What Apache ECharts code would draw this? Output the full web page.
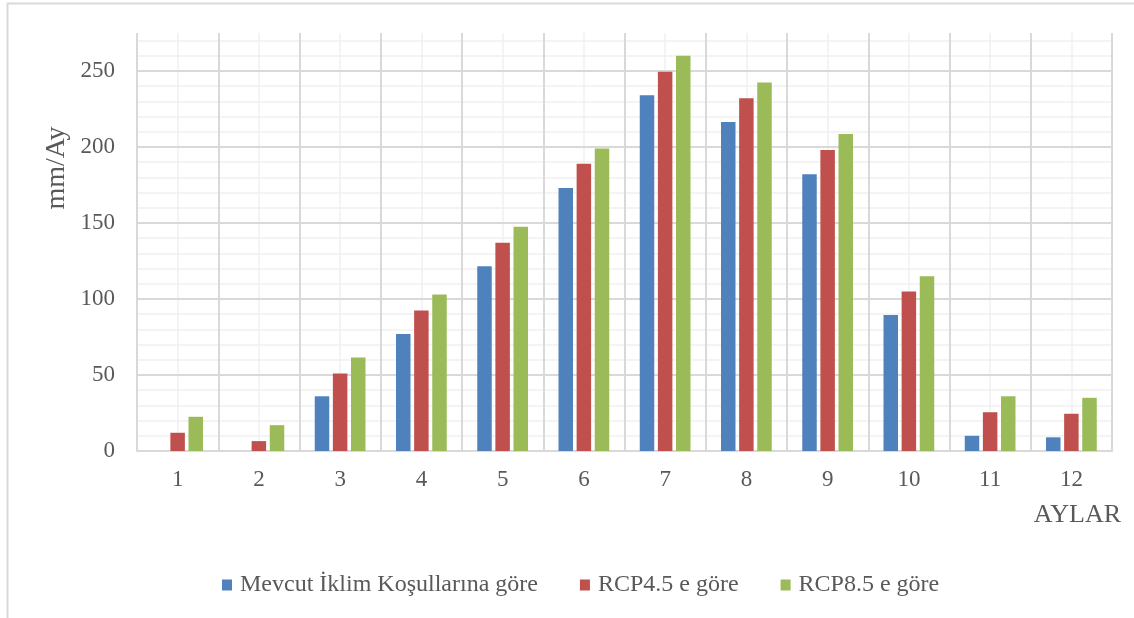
<!DOCTYPE html>
<html>
<head>
<meta charset="utf-8">
<script src="https://cdn.jsdelivr.net/npm/echarts@6/dist/echarts.min.js"></script>
<style>
  html, body { margin: 0; padding: 0; background: #ffffff; }
  #chart { width: 1134px; height: 618px; }
</style>
</head>
<body>
<div id="chart"></div>
<script>
// Monthly precipitation (mm/Ay) for current climate and two RCP scenarios
const months = ['1', '2', '3', '4', '5', '6', '7', '8', '9', '10', '11', '12'];
const seriesNames = ['Mevcut İklim Koşullarına göre', 'RCP4.5 e göre', 'RCP8.5 e göre'];
const mevcut = [0, 0, 36, 77, 121.5, 173, 234, 216.5, 182, 89.5, 10, 9];
const rcp45 = [12, 6.5, 51, 92.5, 137, 189, 249.5, 232, 198, 105, 25.5, 24.5];
const rcp85 = [22.5, 17, 61.5, 103, 147.5, 199, 260, 242.5, 208.5, 115, 36, 35];
const colors = ['#4f81bd', '#c0504d', '#9bbb59'];

const FONT = 'Liberation Serif';
const TEXT = '#595959';
const MAJOR = '#d9d9d9';
const MINOR = '#f0f0f0';

// half-category slots, used only for the light centre gridlines
const halfSlots = months.flatMap(m => [m + 'a', m + 'b']);

const chart = echarts.init(document.getElementById('chart'), null, { renderer: 'canvas' });

const makeBar = (name, data, color) => ({
  name: name,
  type: 'bar',
  xAxisIndex: 0,
  yAxisIndex: 0,
  data: data,
  barWidth: 14.5,
  barGap: '25%',
  itemStyle: { color: color },
  emphasis: { disabled: true }
});

chart.setOption({
  animation: false,
  backgroundColor: '#ffffff',
  grid: { left: 137, right: 22, top: 33, bottom: 167, containLabel: false },
  legend: {
    left: 217,
    top: 568,
    icon: 'rect',
    itemWidth: 10,
    itemHeight: 11,
    itemGap: 42,
    textStyle: { fontFamily: FONT, fontSize: 24, color: TEXT, padding: [0, 0, 0, 3] },
    data: seriesNames
  },
  xAxis: [
    {
      type: 'category',
      data: months,
      z: 2,
      axisLine: { show: true, lineStyle: { color: MAJOR, width: 2 } },
      axisTick: { show: false },
      axisLabel: { fontFamily: FONT, fontSize: 23, color: TEXT, margin: 17 },
      splitLine: { show: true, interval: 0, lineStyle: { color: MAJOR, width: 2 } }
    },
    {
      type: 'category',
      data: halfSlots,
      position: 'bottom',
      z: 0,
      axisLine: { show: false },
      axisTick: { show: false },
      axisLabel: { show: false },
      splitLine: { show: true, interval: 0, lineStyle: { color: MINOR, width: 1.5 } }
    }
  ],
  yAxis: [
    {
      type: 'value',
      min: 0,
      max: 275,
      interval: 50,
      z: 1,
      axisLine: { show: false },
      axisTick: { show: false },
      axisLabel: {
        fontFamily: FONT, fontSize: 23, color: TEXT, margin: 22,
        formatter: v => (v % 50 === 0 ? String(v) : '')
      },
      splitLine: { show: true, showMaxLine: false, lineStyle: { color: MAJOR, width: 2 } }
    },
    {
      type: 'value',
      min: 0,
      max: 275,
      interval: 10,
      position: 'left',
      z: 0,
      axisLine: { show: false },
      axisTick: { show: false },
      axisLabel: { show: false },
      splitLine: { show: true, showMaxLine: false, lineStyle: { color: MINOR, width: 1.5 } }
    }
  ],
  graphic: [
    {
      type: 'rect',
      silent: true,
      shape: { x: 7.5, y: 3.5, width: 1400, height: 800 },
      style: { fill: 'none', stroke: MAJOR, lineWidth: 2 }
    },
    {
      type: 'text',
      silent: true,
      x: 57,
      y: 168,
      rotation: Math.PI / 2,
      style: {
        text: 'mm/Ay', fontFamily: FONT, fontSize: 28, fill: TEXT,
        textAlign: 'center', textVerticalAlign: 'middle'
      }
    },
    {
      type: 'text',
      silent: true,
      x: 1121,
      y: 515,
      style: {
        text: 'AYLAR', fontFamily: FONT, fontSize: 26, fill: TEXT,
        textAlign: 'right', textVerticalAlign: 'middle'
      }
    }
  ],
  series: [
    makeBar(seriesNames[0], mevcut, colors[0]),
    makeBar(seriesNames[1], rcp45, colors[1]),
    makeBar(seriesNames[2], rcp85, colors[2])
  ]
});
</script>
</body>
</html>
